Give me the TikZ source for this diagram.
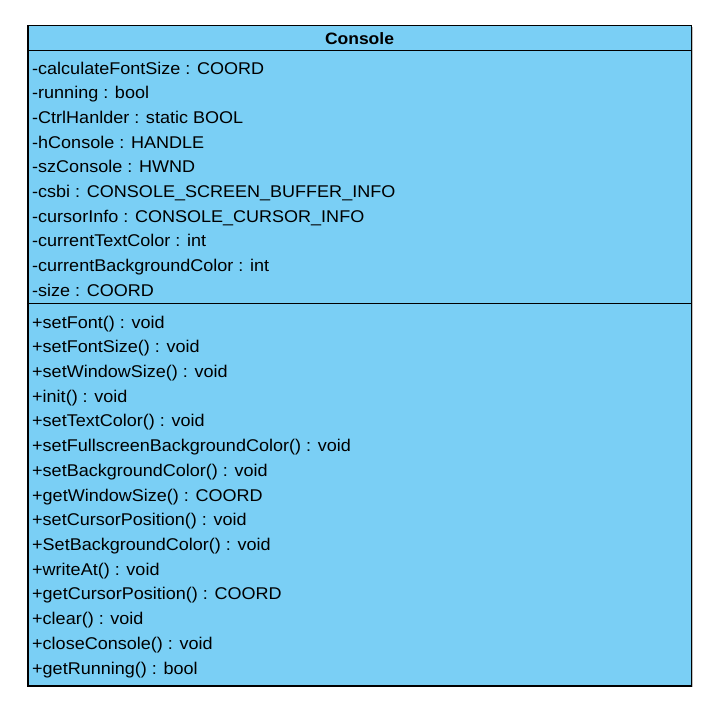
\documentclass[tikz,border=0pt]{standalone}
\usepackage{fontspec}
\setmainfont{Liberation Sans}[FakeStretch=1.06]
\begin{document}
\begin{tikzpicture}[x=1pt,y=-1pt,
  member/.style={anchor=base west,inner sep=0pt,font=\fontsize{17}{20}\selectfont},
  title/.style={anchor=base,inner sep=0pt,font=\fontsize{16.5}{20}\selectfont\bfseries},
  frame/.style={draw=black,line width=1.1pt}]
\definecolor{classblue}{RGB}{122,207,245}
\useasboundingbox (0,0) rectangle (721,719);
\fill[gray!50] (29.5,27.2) rectangle (692.8,687.2);
\fill[classblue] (28,25.7) rectangle (691.5,686);
\draw[frame] (28,25.7) rectangle (691.5,686);
\draw[frame] (28,50.5) -- (691.5,50.5);
\draw[frame] (28,303.5) -- (691.5,303.5);
\node[title] (cls) at (359.5,44.8) {Console};
\foreach \t [count=\i] in {
  {-calculateFontSize : COORD},
  {-running : bool},
  {-CtrlHanlder : static BOOL},
  {-hConsole : HANDLE},
  {-szConsole : HWND},
  {-csbi : CONSOLE\_SCREEN\_BUFFER\_INFO},
  {-cursorInfo : CONSOLE\_CURSOR\_INFO},
  {-currentTextColor : int},
  {-currentBackgroundColor : int},
  {-size : COORD}}
  \node[member] (attr\i) at (32,{74.2+24.67*(\i-1)}) {\t};
\foreach \t [count=\i] in {
  {+setFont() : void},
  {+setFontSize() : void},
  {+setWindowSize() : void},
  {+init() : void},
  {+setTextColor() : void},
  {+setFullscreenBackgroundColor() : void},
  {+setBackgroundColor() : void},
  {+getWindowSize() : COORD},
  {+setCursorPosition() : void},
  {+SetBackgroundColor() : void},
  {+writeAt() : void},
  {+getCursorPosition() : COORD},
  {+clear() : void},
  {+closeConsole() : void},
  {+getRunning() : bool}}
  \node[member] (meth\i) at (32,{328.2+24.7*(\i-1)}) {\t};
\end{tikzpicture}
\end{document}
